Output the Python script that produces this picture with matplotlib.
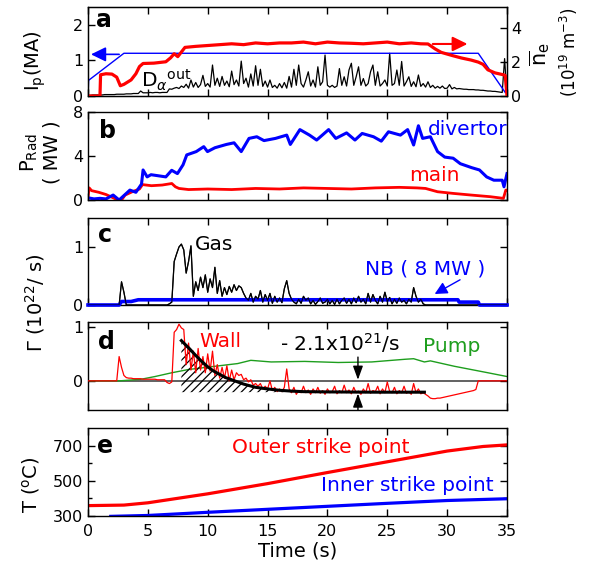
import numpy as np
import matplotlib
matplotlib.use('Agg')
import matplotlib.pyplot as plt

plt.rcParams['font.family'] = ['DejaVu Sans']
plt.rcParams['mathtext.fontset'] = 'dejavusans'
plt.rcParams['hatch.linewidth'] = 0.9

# ---------------- data ----------------
# Panel a : D_alpha (outer), sampled every 0.2 s from 0 to 35 s
dalpha = ([0.02, 0.02, 0.03, 0.03, 0.03, 0.03, 0.03, 0.04, 0.04, 0.04, 0.04] +
          [0.04, 0.05, 0.05, 0.05, 0.05, 0.06, 0.06, 0.06, 0.07, 0.07, 0.07] +
          [0.14] +
          [0.09, 0.09, 0.09, 0.10, 0.09, 0.10, 0.10, 0.09, 0.10, 0.10, 0.10] +
          [0.20, 0.19, 0.22, 0.24, 0.21] +
          [0.28, 0.24, 0.33, 0.22, 0.45, 0.25, 0.38, 0.24, 0.32, 0.58,
           0.27, 0.35, 0.25, 0.87, 0.30, 0.50, 0.27, 0.55, 0.30, 0.42,
           0.26, 0.70, 0.32, 0.45, 0.28, 0.98, 0.35, 0.50, 0.25, 0.62,
           0.28, 0.85, 0.30, 0.75, 0.27, 0.42, 0.25, 0.45, 0.24, 0.30,
           0.22, 0.35, 0.23, 0.38, 0.22, 0.55, 0.25, 0.75, 0.30, 0.87] +
          [0.35, 0.25, 0.45, 0.68, 0.28, 0.45, 0.25, 0.82, 0.30, 0.40,
           1.15, 0.30, 0.25, 0.30, 0.24, 0.28, 0.77, 0.30, 0.54, 0.28,
           0.73, 0.92, 0.30, 0.54, 0.82, 0.30, 0.49, 0.28, 0.35, 0.68,
           0.87, 0.30, 0.68, 0.28, 0.35, 0.45, 0.28, 1.20, 0.30, 0.35,
           0.73, 0.30, 0.97, 0.28, 0.40, 0.54, 0.27, 0.40, 0.26, 0.59,
           0.27] +
          [0.35, 0.25, 0.40, 0.24, 0.30, 0.22, 0.27, 0.22, 0.28, 0.21,
           0.22, 0.32, 0.20, 0.24, 0.20, 0.21, 0.20, 0.19, 0.19, 0.18,
           0.18, 0.18, 0.17, 0.17, 0.16, 0.16, 0.15, 0.14, 0.14, 0.13,
           0.13, 0.12, 0.11, 0.10, 1.05, 0.0])
t_dalpha = np.arange(len(dalpha)) * 0.2

t_ip = [0, 0.05, 3.0, 32.6, 34.85]
ip = [0, 0.44, 1.2, 1.2, 0.1]

t_ne = [0, 1.0, 1.05, 1.5, 2.0, 2.4, 2.7, 3.0, 3.6, 4.0, 4.3, 4.6, 5.5, 6.5, 6.9,
        7.2, 7.5, 8.1, 9, 10, 11, 12, 13, 14, 15, 16, 17, 18, 19, 20, 21, 22, 23,
        24, 25, 26, 27, 27.8, 28.4, 29.0, 29.5, 30.0, 30.5, 31.2, 32.0, 32.6, 33.0,
        33.4, 34.0, 34.7, 34.85, 35]
ne = [0, 0, 1.24, 1.3, 1.28, 1.1, 0.6, 0.68, 0.94, 1.3, 1.72, 1.9, 1.92, 2.0, 2.23,
      2.47, 2.3, 2.84, 2.9, 2.95, 3.0, 3.05, 3.0, 3.1, 3.05, 3.1, 3.1, 3.15, 3.05,
      3.15, 3.1, 3.08, 3.05, 3.1, 3.15, 3.05, 3.1, 3.05, 3.04, 2.75, 2.55, 2.45,
      2.35, 2.22, 2.1, 1.98, 1.85, 1.53, 1.35, 1.24, 1.2, 0]

# Panel b : radiated power (MW)
t_div = [0, 0.5, 1.0, 1.5, 2.1, 2.6, 3.0, 3.5, 4.0, 4.47, 4.6, 4.94, 5.26, 5.89, 6.5,
         6.99, 7.47, 7.94, 8.25, 9.04, 9.67, 9.98, 10.6, 11.56, 12.2, 12.8, 13.45,
         14.1, 14.7, 15.66, 16.6, 16.9, 17.7, 18.5, 19.1, 20.1, 20.7, 21.6, 22.3,
         22.9, 23.85, 24.5, 25.1, 26.1, 26.7, 27.2, 27.6, 27.95, 28.6, 29.2, 29.8,
         30.5, 31.1, 32.05, 32.7, 33.3, 33.9, 34.6, 34.75, 35]
p_div = [0.2, 0.1, 0.15, 0.1, 0.45, 0.0, 0.4, 0.9, 0.7, 1.45, 2.73, 2.1, 2.3, 2.2, 2.1,
         2.7, 2.4, 3.2, 4.1, 4.4, 4.85, 4.4, 4.75, 5.05, 5.2, 4.4, 5.6, 5.75, 5.4, 5.6,
         5.9, 5.05, 6.4, 5.9, 5.45, 6.4, 5.6, 6.1, 5.45, 6.05, 5.75, 5.35, 6.2, 5.9,
         6.4, 5.0, 6.75, 5.6, 5.75, 4.4, 3.9, 3.8, 3.3, 2.94, 2.73, 2.1, 1.8, 1.8, 1.2,
         2.4]
t_main = [0, 0.1, 0.3, 0.9, 1.5, 2.0, 2.4, 2.8, 3.1, 3.7, 4.3, 4.55, 5.3, 6.2, 7.0,
          7.3, 7.6, 8.4, 10, 12, 14, 16, 18, 20, 22, 24, 26, 27.5, 28.2, 29.2, 30.5,
          32, 33.6, 34.7, 34.9, 35]
p_main = [0.3, 1.1, 0.85, 0.7, 0.5, 0.25, 0.05, 0.0, 0.45, 0.75, 1.0, 1.4, 1.3, 1.36,
          1.5, 1.2, 1.05, 0.95, 1.0, 0.95, 1.05, 1.0, 1.1, 1.05, 1.0, 1.1, 1.15, 1.1,
          1.05, 0.75, 0.6, 0.45, 0.3, 0.15, 0.9, 0.9]

# Panel c : gas puff (every 0.2 s) and NB fuelling, 1e22/s
gas = ([0.0] * 14 + [0.40, 0.22] + [0.0] * 18 +
       [0.02, 0.05, 0.75, 0.88, 1.00, 1.05, 0.95, 0.55, 0.75, 1.02,
        0.15, 0.40, 0.25, 0.48, 0.30, 0.52, 0.22, 0.45, 0.30, 0.65,
        0.20, 0.42, 0.15, 0.30, 0.18, 0.32, 0.22, 0.35, 0.25, 0.33,
        0.30, 0.20, 0.12, 0.08, 0.20, 0.05, 0.15, 0.10, 0.25, 0.05,
        0.18, 0.08, 0.20, 0.03, 0.15, 0.05, 0.12, 0.04, 0.28, 0.42,
        0.20, 0.10, 0.05, 0.02, 0.10, 0.03, 0.15, 0.08, 0.12, 0.02,
        0.08, 0.01, 0.06, 0.12, 0.03, 0.05, 0.10, 0.02, 0.08, 0.01,
        0.10, 0.02, 0.08, 0.12, 0.03, 0.10, 0.02, 0.12, 0.04, 0.15,
        0.05, 0.10, 0.02, 0.20, 0.05, 0.18, 0.08, 0.02, 0.15, 0.05,
        0.22, 0.06, 0.13, 0.02, 0.10, 0.03, 0.12, 0.05, 0.08, 0.02,
        0.10, 0.05, 0.30, 0.15, 0.05, 0.10, 0.02] + [0.0] * 35)
t_gas = np.arange(len(gas)) * 0.2

t_nb = [0, 2.6, 2.8, 3.6, 4.2, 30.9, 31.0, 32.6, 32.7, 35]
nb = [0, 0, 0.06, 0.06, 0.09, 0.09, 0.05, 0.05, 0, 0]

# Panel d : wall (every 0.2 s), pump, fit
wall = ([0.0] * 13 + [0.45, 0.25, 0.10, 0.06] +
        [0.05, 0.05, 0.04, 0.04, 0.04, 0.04, 0.03, 0.03, 0.03, 0.03, 0.03, 0.03,
         0.02, 0.02, 0.02, 0.02] +
        [-0.03, -0.05, -0.02] + [0.90, 0.95, 1.05, 0.98, 0.95] +
        [0.30, 0.70, 0.20, 0.55, 0.15, 0.60, 0.20, 0.45, 0.15, 0.50, 0.18, 0.55,
         0.10, 0.30, 0.05, 0.25, 0.05, 0.28, 0.00, 0.20, 0.02, 0.15, 0.10, 0.12, 0.02] +
        [0.05, -0.02, 0.02, -0.08, -0.05, -0.10, -0.05, -0.15, -0.10, -0.15, 0.0,
         -0.18, -0.12, -0.20, -0.15, -0.20, -0.12] +
        [0.22, -0.15, -0.22, -0.12, -0.25, -0.18, -0.22, -0.10, -0.22, -0.17,
         -0.25, -0.15, -0.22, -0.12, -0.23, -0.18, -0.25, -0.15, -0.22, -0.20,
         -0.10, -0.24, -0.18, -0.22, -0.08, -0.22, -0.17, -0.24, -0.12, -0.22,
         -0.19, -0.25, -0.15, -0.22, -0.05, -0.23, -0.18, -0.20, -0.10, -0.24,
         -0.15, -0.22, -0.02, -0.20, -0.22, -0.12, -0.24, -0.18, -0.22, -0.10,
         -0.23, -0.20, -0.25, -0.05, -0.22, -0.15, -0.24, -0.22] +
        [-0.25, -0.28, -0.32, -0.33, -0.33, -0.32, -0.32, -0.31, -0.30, -0.29,
         -0.28, -0.27, -0.26, -0.25, -0.24, -0.23, -0.22, -0.21, -0.20, -0.19,
         -0.18, -0.16] + [0.0] * 13)
t_wall = np.arange(len(wall)) * 0.2

t_pump = [0, 2.65, 4.45, 5.6, 7.0, 8.4, 10.6, 12.5, 13.6, 15.3, 18.1, 20.9, 23.7,
          26.5, 27.2, 28.1, 28.6, 30.6, 33.4, 35]
pump = [0, 0, 0.03, 0.08, 0.15, 0.21, 0.27, 0.32, 0.38, 0.35, 0.36, 0.34, 0.35,
        0.40, 0.41, 0.35, 0.37, 0.27, 0.15, 0.08]

t_fit = [7.8, 8.0, 8.5, 9.0, 9.5, 10, 10.5, 11, 11.5, 12, 12.5, 13, 13.5, 14, 15,
         16, 17, 18, 20, 24, 28.1]
fit = [0.745, 0.70, 0.59, 0.47, 0.36, 0.26, 0.18, 0.12, 0.06, 0.02, -0.02, -0.06,
       -0.09, -0.12, -0.15, -0.175, -0.19, -0.20, -0.205, -0.21, -0.21]
wall_level = -0.21

# Panel e : temperatures (deg C)
t_temp = [0, 3, 5, 10, 15, 20, 25, 30, 33, 35]
t_outer = [359, 362, 375, 426, 484, 547, 608, 669, 695, 704]
t_in_time = [1.9, 5, 10, 15, 20, 25, 30, 35]
t_inner = [298, 303, 321, 338, 355, 372, 388, 398]

xticks = [0, 5, 10, 15, 20, 25, 30, 35]

# ---------------- figure ----------------
W, H = 591, 569
fig = plt.figure(figsize=(W / 100, H / 100), dpi=100)
RED, BLUE, GREEN = '#ff0000', '#0000ff', '#1e9e1e'
TICK = 11.5
LAB = 14
ANN = 14.5


def make_ax(top, bottom):
    ax = fig.add_axes([88 / W, 1 - bottom / H, 419 / W, (bottom - top) / H])
    ax.set_xlim(0, 35)
    ax.set_xticks(xticks)
    for s in ax.spines.values():
        s.set_linewidth(1.0)
    ax.tick_params(direction='in', top=True, right=True, length=5, width=1,
                   labelsize=TICK, pad=3.5)
    ax.tick_params(axis='x', labelbottom=False)
    return ax


def fx(px):
    return px / W


def fy(py):
    return 1 - py / H


# ---- a ----
ax_a = make_ax(7, 96)
ax_a.tick_params(right=False)
ax_a.set_ylim(0, 2.5)
ax_a.set_yticks([0, 1, 2])
ax_a.plot(t_dalpha, dalpha, color='k', lw=0.9)
ax_a.plot(t_ip, ip, color=BLUE, lw=1.0)
ax_a.annotate('', xy=(0.25, 1.17), xytext=(2.6, 1.17),
              arrowprops=dict(arrowstyle='-|>,head_length=0.45,head_width=0.22',
                              color=BLUE, lw=1.2, mutation_scale=20,
                              shrinkA=0, shrinkB=0))
ax_a2 = ax_a.twinx()
ax_a2.set_ylim(0, 5.2)
ax_a2.set_yticks([0, 2, 4])
ax_a2.tick_params(direction='in', length=5, width=1, labelsize=TICK, pad=3)
ax_a2.plot(t_ne, ne, color=RED, lw=2.3)
ax_a2.annotate('', xy=(31.7, 3.04), xytext=(28.8, 3.04),
               arrowprops=dict(arrowstyle='-|>,head_length=0.45,head_width=0.22',
                               color=RED, lw=1.5, mutation_scale=20,
                               shrinkA=0, shrinkB=0))
ax_a.text(0.67, 1.95, 'a', fontsize=17, fontweight='bold', va='baseline')
ax_a.text(4.4, 0.25, r'D$_{\alpha}$$^{\rm out}$', fontsize=ANN, va='baseline')
fig.text(fx(35), fy(61), r'I$_{\rm p}$(MA)', rotation=90, ha='center',
         va='center', fontsize=LAB)
fig.text(fx(540), fy(54), r'$\overline{\rm n}_{\rm e}$', rotation=90,
         ha='center', va='center', fontsize=LAB + 1)
fig.text(fx(569), fy(52), r'(10$^{19}$ m$^{-3}$)', rotation=90,
         ha='center', va='center', fontsize=12)

# ---- b ----
ax_b = make_ax(112, 200)
ax_b.set_ylim(0, 8)
ax_b.set_yticks([0, 4, 8])
ax_b.plot(t_main, p_main, color=RED, lw=2.0)
ax_b.plot(t_div, p_div, color=BLUE, lw=2.2)
ax_b.text(0.92, 5.6, 'b', fontsize=17, fontweight='bold', va='baseline')
ax_b.text(28.4, 5.9, 'divertor', color=BLUE, fontsize=ANN, va='baseline')
ax_b.text(26.8, 1.73, 'main', color=RED, fontsize=ANN, va='baseline')
fig.text(fx(40), fy(152), 'P$_{\\rm Rad}$\n( MW )', rotation=90, ha='center',
         va='center', multialignment='center', fontsize=LAB, linespacing=1.15)

# ---- c ----
ax_c = make_ax(218, 305)
ax_c.set_ylim(0, 1.5)
ax_c.set_yticks([0, 1])
ax_c.plot(t_gas, gas, color='k', lw=0.9, zorder=2)
ax_c.plot(t_nb, nb, color=BLUE, lw=2.6, zorder=3, clip_on=False)
ax_c.plot(t_gas, gas, color='k', lw=0.8, zorder=4, alpha=0.85)
ax_c.text(0.84, 1.09, 'c', fontsize=17, fontweight='bold', va='baseline')
ax_c.text(8.9, 0.95, 'Gas', color='k', fontsize=ANN, va='baseline')
ax_c.text(23.1, 0.52, 'NB ( 8 MW )', color=BLUE, fontsize=ANN, va='baseline')
ax_c.annotate('', xy=(28.96, 0.19), xytext=(31.08, 0.435),
              arrowprops=dict(arrowstyle='-|>,head_length=0.5,head_width=0.25',
                              color=BLUE, lw=1.0, mutation_scale=15,
                              shrinkA=0, shrinkB=0))
fig.text(fx(35), fy(303), r'$\Gamma$ (10$^{22}$/ s)', rotation=90, ha='center',
         va='center', fontsize=LAB)

# ---- d ----
ax_d = make_ax(322, 410)
ax_d.set_ylim(-0.54, 1.09)
ax_d.set_yticks([0, 1])
ax_d.axhline(0, color='#555555', lw=1.3, zorder=1)
ax_d.plot(t_pump, pump, color=GREEN, lw=1.0, zorder=2)
ax_d.plot(t_wall, wall, color=RED, lw=0.9, zorder=3)
fit_a = np.array(t_fit)
fit_v = np.array(fit)
m = fit_a <= 17
ax_d.fill_between(fit_a[m], fit_v[m], wall_level, facecolor='none',
                  edgecolor='k', hatch='////', linewidth=0, zorder=2.5)
ax_d.plot(t_fit, fit, color='k', lw=2.2, zorder=4)
ax_d.annotate('', xy=(22.55, 0.02), xytext=(22.55, 0.44),
              arrowprops=dict(arrowstyle='-|>,head_length=0.55,head_width=0.2',
                              color='k', lw=1.0, mutation_scale=15,
                              shrinkA=0, shrinkB=0), zorder=5)
ax_d.annotate('', xy=(22.55, -0.235), xytext=(22.55, -0.54),
              arrowprops=dict(arrowstyle='-|>,head_length=0.55,head_width=0.2',
                              color='k', lw=1.0, mutation_scale=15,
                              shrinkA=0, shrinkB=0), zorder=5,
              annotation_clip=False)
ax_d.text(0.84, 0.59, 'd', fontsize=17, fontweight='bold', va='baseline')
ax_d.text(9.33, 0.62, 'Wall', color=RED, fontsize=ANN, va='baseline')
ax_d.text(16.0, 0.55, r'- 2.1x10$^{21}$/s', color='k', fontsize=ANN,
          va='baseline')
ax_d.text(28.0, 0.53, 'Pump', color=GREEN, fontsize=ANN, va='baseline')

# ---- e ----
ax_e = make_ax(428, 516)
ax_e.set_ylim(300, 800)
ax_e.set_yticks([300, 500, 700])
ax_e.set_yticks([400, 600], minor=True)
ax_e.tick_params(which='minor', direction='in', right=True, length=3, width=1)
ax_e.tick_params(axis='x', labelbottom=True, pad=6)
ax_e.plot(t_temp, t_outer, color=RED, lw=2.3)
ax_e.plot(t_in_time, t_inner, color=BLUE, lw=2.3)
ax_e.text(0.73, 656, 'e', fontsize=17, fontweight='bold', va='baseline')
ax_e.text(12.0, 656, 'Outer strike point', color=RED, fontsize=ANN,
          va='baseline')
ax_e.text(19.5, 440, 'Inner strike point', color=BLUE, fontsize=ANN,
          va='baseline')
fig.text(fx(31), fy(485), r'T ($^{\rm o}$C)', rotation=90, ha='center',
         va='center', fontsize=LAB)
fig.text(fx(298), fy(551), 'Time (s)', ha='center', va='center', fontsize=LAB)

fig.savefig('out.png', dpi=100)
